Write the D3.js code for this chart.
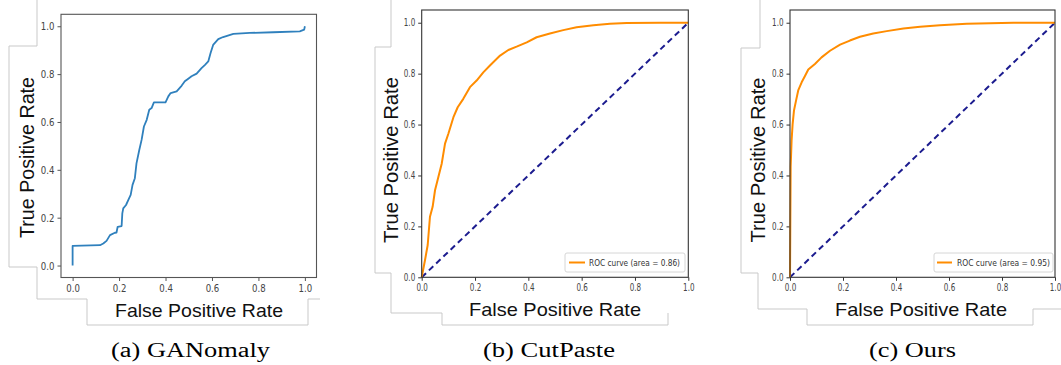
<!DOCTYPE html>
<html><head><meta charset="utf-8">
<script src="https://cdn.jsdelivr.net/npm/d3@7"></script>
<style>
html,body{margin:0;padding:0;background:#fff;}
svg{display:block;}
</style></head>
<body>
<svg id="chart" width="1061" height="365"></svg>
<script>
// ---- data ----
const ganFpr = [0,0,0.118,0.132,0.146,0.161,0.182,0.189,0.194,0.211,0.214,0.218,0.230,0.240,0.250,0.258,0.268,0.275,0.287,0.297,0.307,0.319,0.330,0.340,0.350,0.400,0.412,0.422,0.448,0.469,0.483,0.498,0.512,0.534,0.555,0.570,0.584,0.594,0.605,0.627,0.648,0.692,0.763,0.864,0.978,0.997,1.0];
const ganTpr = [0,0.082,0.085,0.092,0.103,0.127,0.137,0.138,0.162,0.165,0.218,0.239,0.253,0.274,0.295,0.337,0.365,0.427,0.483,0.525,0.581,0.609,0.651,0.658,0.682,0.682,0.707,0.721,0.728,0.751,0.770,0.781,0.791,0.802,0.825,0.839,0.853,0.888,0.922,0.946,0.955,0.968,0.972,0.975,0.979,0.986,1.0];

const cutFpr = [0,0.0125,0.0225,0.031,0.041,0.050,0.0625,0.075,0.0875,0.100,0.119,0.135,0.156,0.181,0.206,0.231,0.256,0.294,0.325,0.356,0.394,0.431,0.481,0.531,0.581,0.644,0.706,0.769,0.894,1.0];
const cutTpr = [0,0.068,0.127,0.238,0.277,0.342,0.394,0.446,0.525,0.564,0.629,0.668,0.701,0.747,0.773,0.805,0.832,0.871,0.893,0.906,0.923,0.943,0.958,0.971,0.982,0.990,0.996,0.999,1.0,1.0];

const oursFpr = [0,0.001,0.0025,0.006,0.010,0.015,0.023,0.031,0.044,0.057,0.069,0.094,0.119,0.151,0.189,0.226,0.264,0.314,0.365,0.428,0.491,0.566,0.667,0.843,1.0];
const oursTpr = [0,0.172,0.433,0.538,0.603,0.655,0.695,0.734,0.766,0.792,0.816,0.838,0.864,0.890,0.914,0.930,0.945,0.958,0.967,0.977,0.984,0.990,0.996,1.0,1.0];

const chanceFpr = [0,1];
const chanceTpr = [0,1];

const tickValues = [0,0.2,0.4,0.6,0.8,1.0];
const xAxisTitle = "False Positive Rate";
const yAxisTitle = "True Positive Rate";
const captions = ["(a) GANomaly","(b) CutPaste","(c) Ours"];
const legendLabels = [null,"ROC curve (area = 0.86)","ROC curve (area = 0.95)"];

// ---- layout ----
const panels = [
  {fpr:ganFpr, tpr:ganTpr, color:"#2f80bd", width:1.8, chance:false,
   left:61, right:316.5, top:14.3, bottom:277.5, xd:[-0.05,1.05], yd:[-0.05,1.05],
   spine:"#555", tickFont:11, tickSX:0.78,
   yl:{x:33.5,y:157.5,len:161,fs:21}, xl:{x:199,y:317,len:168,fs:19},
   cap:{x:190.5,len:159}, legend:null},
  {fpr:cutFpr, tpr:cutTpr, color:"#ff8c00", width:2, chance:true,
   left:421.7, right:688.3, top:10, bottom:277.3, xd:[0,1], yd:[0,1.05],
   spine:"#333", tickFont:10, tickSX:0.72,
   yl:{x:398,y:160,len:166,fs:21}, xl:{x:555,y:316,len:172,fs:19},
   cap:{x:549,len:132}, legend:{x0:565,x1:685,y0:253,y1:272,lx0:569,lx1:585,tx:589,tlen:91}},
  {fpr:oursFpr, tpr:oursTpr, color:"#ff8c00", width:2, chance:true,
   left:790, right:1055, top:10, bottom:277.3, xd:[0,1], yd:[0,1.05],
   spine:"#333", tickFont:10, tickSX:0.72,
   yl:{x:765,y:160,len:165,fs:21}, xl:{x:921,y:316,len:172,fs:19},
   cap:{x:912.5,len:87}, legend:{x0:934,x1:1053,y0:253,y1:272,lx0:937,lx1:952,tx:957,tlen:93}}
];

const svg = d3.select("#chart");

// light gray screenshot-crop borders
const borders = [
  "M37,0 V46 H9 V267 H37 V299 H87 V325 H308 V299 H320",
  "M391,0 V47 H375 V273 H391 V313 H442 V325 H668 V313",
  "M760,0 V48 H741 V273 H758 V309 H807 V325 H1033 V309 H1061"
];
svg.selectAll("path.border").data(borders).enter().append("path")
  .attr("class","border").attr("d",d=>d).attr("fill","none")
  .attr("stroke","#c9c9c9").attr("stroke-width",1);

panels.forEach((p,i)=>{
  const x = d3.scaleLinear().domain(p.xd).range([p.left,p.right]);
  const y = d3.scaleLinear().domain(p.yd).range([p.bottom,p.top]);
  const g = svg.append("g");

  // axes
  const xa = g.append("g").attr("transform",`translate(0,${p.bottom})`)
    .call(d3.axisBottom(x).tickValues(tickValues).tickFormat(d3.format(".1f")).tickSize(3.5).tickPadding(3));
  const ya = g.append("g").attr("transform",`translate(${p.left},0)`)
    .call(d3.axisLeft(y).tickValues(tickValues).tickFormat(d3.format(".1f")).tickSize(3.5).tickPadding(2.5));
  [xa,ya].forEach(a=>{
    a.select(".domain").remove();
    a.selectAll(".tick line").attr("stroke",p.spine).attr("stroke-width",1);
    a.selectAll(".tick text").attr("fill","#444")
      .style("font-family","DejaVu Sans").style("font-size",p.tickFont+"px");
  });
  xa.selectAll(".tick text").attr("transform",`scale(${p.tickSX},1)`);
  ya.selectAll(".tick text").attr("x",-(6.5)/p.tickSX).attr("transform",`scale(${p.tickSX},1)`);

  // chance line
  if(p.chance){
    g.append("path").datum(d3.zip(chanceFpr,chanceTpr))
      .attr("d",d3.line().x(d=>x(d[0])).y(d=>y(d[1])))
      .attr("fill","none").attr("stroke","#1c1c8f").attr("stroke-width",2)
      .attr("stroke-dasharray","6,4");
  }
  // ROC curve
  g.append("path").datum(d3.zip(p.fpr,p.tpr))
    .attr("d",d3.line().x(d=>x(d[0])).y(d=>y(d[1])))
    .attr("fill","none").attr("stroke",p.color).attr("stroke-width",p.width)
    .attr("stroke-linejoin","round");

  // frame
  g.append("rect").attr("x",p.left).attr("y",p.top)
    .attr("width",p.right-p.left).attr("height",p.bottom-p.top)
    .attr("fill","none").attr("stroke",p.spine).attr("stroke-width",1.1);

  // axis titles
  g.append("text").text(xAxisTitle).attr("x",p.xl.x).attr("y",p.xl.y)
    .attr("text-anchor","middle").attr("fill","#111")
    .style("font-family","Liberation Sans").style("font-size",p.xl.fs+"px")
    .attr("textLength",p.xl.len).attr("lengthAdjust","spacingAndGlyphs");
  g.append("text").text(yAxisTitle)
    .attr("transform",`translate(${p.yl.x},${p.yl.y}) rotate(-90)`)
    .attr("text-anchor","middle").attr("fill","#111")
    .style("font-family","Liberation Sans").style("font-size",p.yl.fs+"px")
    .attr("textLength",p.yl.len).attr("lengthAdjust","spacingAndGlyphs");

  // legend
  if(p.legend){
    const L = p.legend;
    g.append("rect").attr("x",L.x0).attr("y",L.y0).attr("width",L.x1-L.x0).attr("height",L.y1-L.y0)
      .attr("rx",2).attr("fill","#fff").attr("fill-opacity",0.85)
      .attr("stroke","#d6d6d6").attr("stroke-width",1);
    const ly = (L.y0+L.y1)/2;
    g.append("line").attr("x1",L.lx0).attr("x2",L.lx1).attr("y1",ly).attr("y2",ly)
      .attr("stroke",p.color).attr("stroke-width",2);
    g.append("text").text(legendLabels[i]).attr("x",L.tx).attr("y",ly+3)
      .attr("fill","#333").style("font-family","DejaVu Sans").style("font-size","8.5px")
      .attr("textLength",L.tlen).attr("lengthAdjust","spacingAndGlyphs");
  }

  // caption
  svg.append("text").text(captions[i]).attr("x",p.cap.x).attr("y",357)
    .attr("text-anchor","middle").attr("fill","#000")
    .style("font-family","Liberation Serif").style("font-size","20px")
    .attr("textLength",p.cap.len).attr("lengthAdjust","spacingAndGlyphs");
});
</script>
</body></html>
